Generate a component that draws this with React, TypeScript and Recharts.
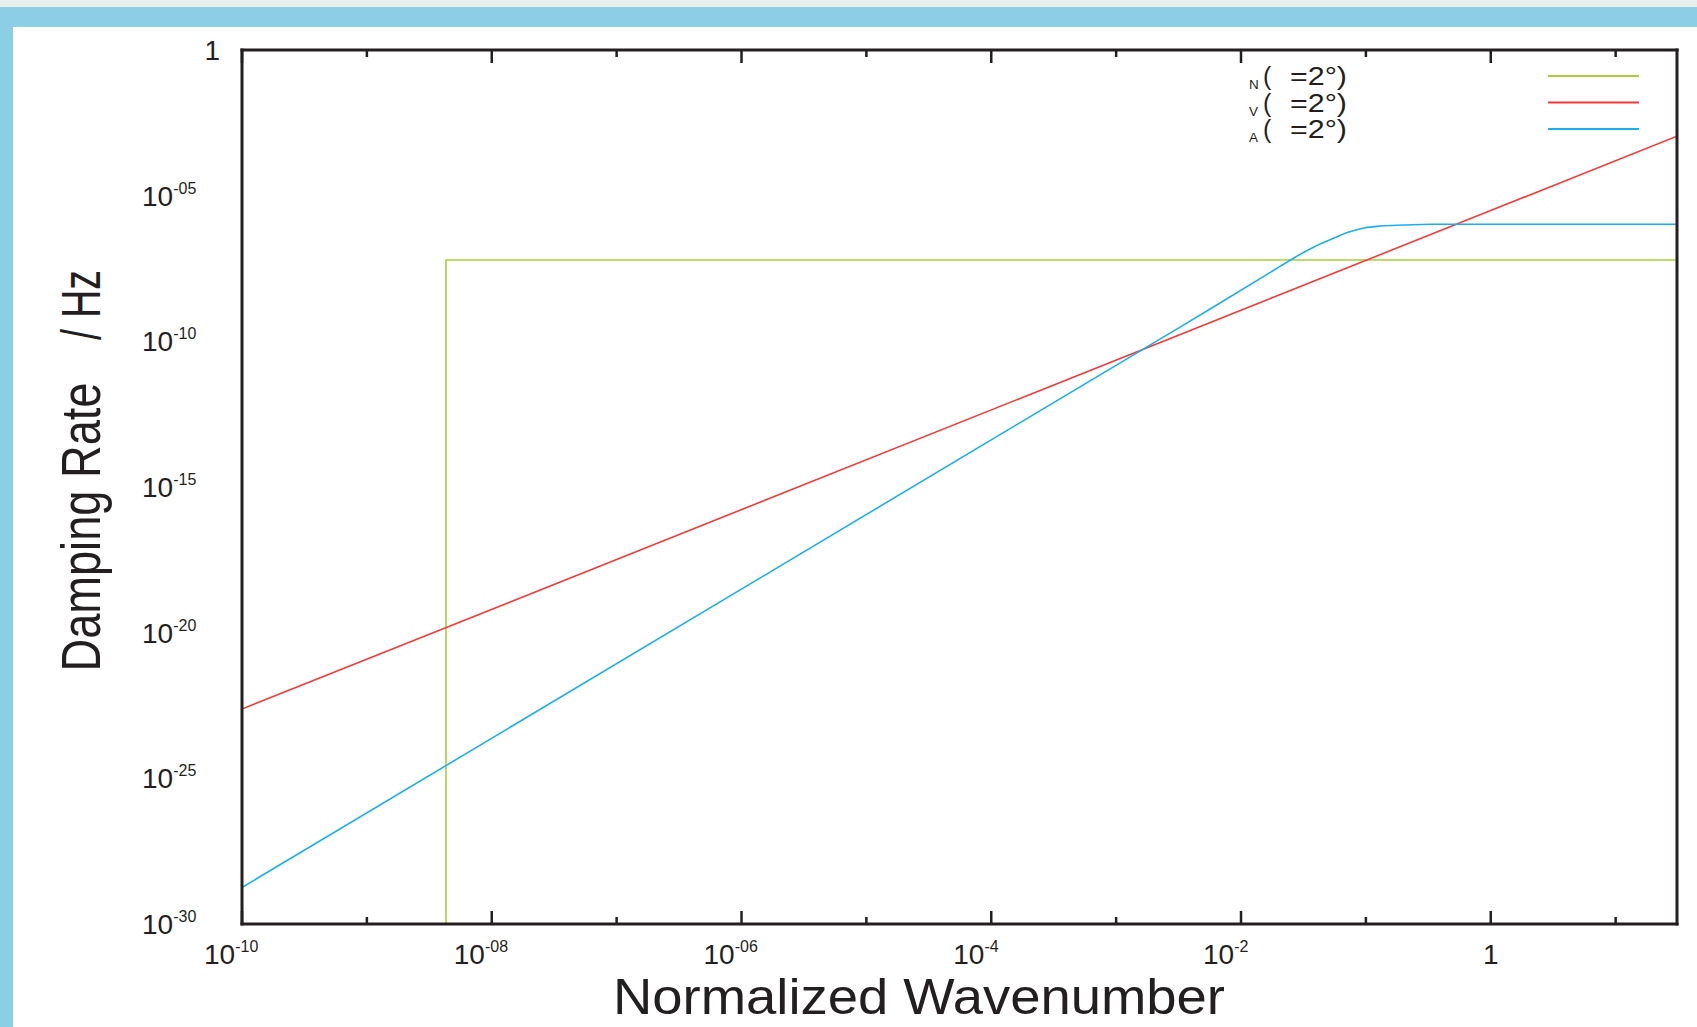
import React from "react";
import { LineChart, Line, XAxis, YAxis } from "recharts";

// x ticks: one per decade, labels on even decades
const xDecades = [1e-10, 1e-9, 1e-8, 1e-7, 1e-6, 1e-5, 1e-4, 1e-3, 1e-2, 1e-1, 1, 10];
const xMajor = [1e-10, 1e-8, 1e-6, 1e-4, 1e-2, 1];
const xMajorSup = ["-10", "-08", "-06", "-4", "-2", ""];

// y labels every 5 decades
const yMajor = [1, 1e-5, 1e-10, 1e-15, 1e-20, 1e-25, 1e-30];
const yMajorSup = ["", "-05", "-10", "-15", "-20", "-25", "-30"];

// frame tick marks on the left/right edges (35 steps, long one every 5)
const frameTicks = Array.from({ length: 36 }, (_, i) => i);

// series (k = normalized wavenumber, r = damping rate)
const seriesN = [
  { k: 4.3e-9, r: 1e-30 },
  { k: 4.3e-9, r: 6.2e-8 },
  { k: 31, r: 6.2e-8 },
];
const seriesV = [
  { k: 1e-10, r: 2.4e-23 },
  { k: 31, r: 1.1e-3 },
];
const seriesA = [
  { k: 1e-10, r: 1.8e-29 },
  { k: 3.3e-3, r: 3.2e-10 },
  { k: 0.0207, r: 3.8e-8 },
  { k: 0.0249, r: 6.2e-8 },
  { k: 0.0384, r: 1.74e-7 },
  { k: 0.0555, r: 3.5e-7 },
  { k: 0.071, r: 5.4e-7 },
  { k: 0.0966, r: 7.8e-7 },
  { k: 0.1315, r: 9.1e-7 },
  { k: 0.202, r: 9.8e-7 },
  { k: 0.33, r: 1.05e-6 },
  { k: 31, r: 1.05e-6 },
];

const legendRows = [
  { sub: "N", color: "#A8CF3A" },
  { sub: "V", color: "#EF3B3A" },
  { sub: "A", color: "#1DAEE8" },
];

const AX = "#231F20";
const FONT = "'Liberation Sans', Arial, sans-serif";
const PLOT_W = 1435;

const sameDecade = (a: number, b: number) => Math.abs(Math.log10(a) - Math.log10(b)) < 1e-6;

function BottomTick(props: any) {
  const { x, y, payload } = props;
  const i = xMajor.findIndex((m) => sameDecade(m, payload.value));
  const major = i >= 0;
  return (
    <g>
      <line x1={x} x2={x} y1={y} y2={y - (major ? 13 : 7)} stroke={AX} strokeWidth={2.5} />
      {major &&
        (xMajorSup[i] ? (
          <text x={x - 38} y={y + 40} fontSize={28} fill={AX} fontFamily={FONT}>
            10
            <tspan dy={-12} fontSize={16}>{xMajorSup[i]}</tspan>
          </text>
        ) : (
          <text x={x} y={y + 40} fontSize={28} fill={AX} fontFamily={FONT} textAnchor="middle">
            1
          </text>
        ))}
    </g>
  );
}

function TopTick(props: any) {
  const { x, y, payload } = props;
  const major = xMajor.some((m) => sameDecade(m, payload.value));
  return <line x1={x} x2={x} y1={y} y2={y + (major ? 13 : 7)} stroke={AX} strokeWidth={2.5} />;
}

function LeftLabel(props: any) {
  const { x, y, payload } = props;
  const i = yMajor.findIndex((m) => sameDecade(m, payload.value));
  if (i < 0) return <g />;
  if (!yMajorSup[i])
    return (
      <text x={x - 22} y={y + 10} fontSize={28} fill={AX} fontFamily={FONT} textAnchor="end">
        1
      </text>
    );
  return (
    <text x={x - 100} y={y + 10} fontSize={28} fill={AX} fontFamily={FONT}>
      10
      <tspan dy={-12} fontSize={16}>{yMajorSup[i]}</tspan>
    </text>
  );
}

function FrameTick(props: any) {
  const { x, y, payload } = props;
  const len = payload.value % 5 === 0 ? 15 : 8;
  return (
    <g>
      <line x1={x} x2={x - len} y1={y} y2={y} stroke={AX} strokeWidth={2.5} />
      <line x1={x - PLOT_W} x2={x - PLOT_W + len} y1={y} y2={y} stroke={AX} strokeWidth={2.5} />
    </g>
  );
}

const axisLine = { stroke: AX, strokeWidth: 3, strokeLinecap: "square" as const };

export default function App() {
  return (
    <div
      style={{
        position: "absolute",
        left: 0,
        top: 0,
        width: 1697,
        height: 1027,
        background: "#ffffff",
        overflow: "hidden",
        fontFamily: FONT,
      }}
    >
      <div style={{ position: "absolute", left: 0, top: 0, width: 1697, height: 7, background: "#E9EEF0" }} />
      <div style={{ position: "absolute", left: 0, top: 7, width: 1697, height: 20, background: "#8CCEE3" }} />
      <div style={{ position: "absolute", left: 0, top: 7, width: 13, height: 1020, background: "#8CCEE3" }} />

      <div style={{ position: "absolute", left: 0, top: 0 }}>
        <LineChart width={1697} height={1027} margin={{ top: 49, right: 19, bottom: 43, left: 142 }}>
          <XAxis
            dataKey="k"
            type="number"
            scale="log"
            domain={[1e-10, 31]}
            allowDataOverflow
            ticks={xDecades}
            interval={0}
            height={60}
            tickSize={0}
            tickMargin={0}
            tickLine={false}
            axisLine={axisLine}
            tick={<BottomTick />}
          />
          <XAxis
            xAxisId="top"
            orientation="top"
            dataKey="k"
            type="number"
            scale="log"
            domain={[1e-10, 31]}
            allowDataOverflow
            ticks={xDecades}
            interval={0}
            height={1}
            tickSize={0}
            tickMargin={0}
            tickLine={false}
            axisLine={axisLine}
            tick={<TopTick />}
          />
          <YAxis
            type="number"
            scale="log"
            domain={[1e-30, 1]}
            allowDataOverflow
            ticks={yMajor}
            interval={0}
            width={100}
            tickSize={0}
            tickMargin={0}
            tickLine={false}
            axisLine={axisLine}
            tick={<LeftLabel />}
          />
          <YAxis
            yAxisId="frame"
            orientation="right"
            type="number"
            domain={[0, 35]}
            ticks={frameTicks}
            interval={0}
            width={1}
            tickSize={0}
            tickMargin={0}
            tickLine={false}
            axisLine={axisLine}
            tick={<FrameTick />}
          />
          <Line data={seriesN} dataKey="r" type="linear" stroke="#A8CF3A" strokeWidth={1.6} dot={false} isAnimationActive={false} />
          <Line data={seriesV} dataKey="r" type="linear" stroke="#EF3B3A" strokeWidth={1.6} dot={false} isAnimationActive={false} />
          <Line data={seriesA} dataKey="r" type="monotone" stroke="#1DAEE8" strokeWidth={1.6} dot={false} isAnimationActive={false} />
        </LineChart>
      </div>

      <svg width={1697} height={1027} style={{ position: "absolute", left: 0, top: 0, pointerEvents: "none" }}>
        {legendRows.map((row, i) => {
          const base = 85 + i * 26.5;
          return (
            <g key={row.sub} fontFamily={FONT} fill={AX}>
              <text x={1249} y={base + 4} fontSize={13.5}>{row.sub}</text>
              <text x={1263} y={base} fontSize={25}>(</text>
              <text x={1290} y={base} fontSize={25} textLength={57} lengthAdjust="spacingAndGlyphs">=2°)</text>
              <line x1={1548} x2={1639} y1={base - 9} y2={base - 9} stroke={row.color} strokeWidth={1.8} />
            </g>
          );
        })}
        <text x={919} y={1014} fontSize={50} fill={AX} fontFamily={FONT} textAnchor="middle" textLength={612} lengthAdjust="spacingAndGlyphs">
          Normalized Wavenumber
        </text>
        <text
          x={100}
          y={527}
          fontSize={55}
          fill={AX}
          fontFamily={FONT}
          textAnchor="middle"
          textLength={289}
          lengthAdjust="spacingAndGlyphs"
          transform="rotate(-90 100 527)"
        >
          Damping Rate
        </text>
        <text
          x={100}
          y={305}
          fontSize={55}
          fill={AX}
          fontFamily={FONT}
          textAnchor="middle"
          textLength={70}
          lengthAdjust="spacingAndGlyphs"
          transform="rotate(-90 100 305)"
        >
          / Hz
        </text>
      </svg>
    </div>
  );
}
